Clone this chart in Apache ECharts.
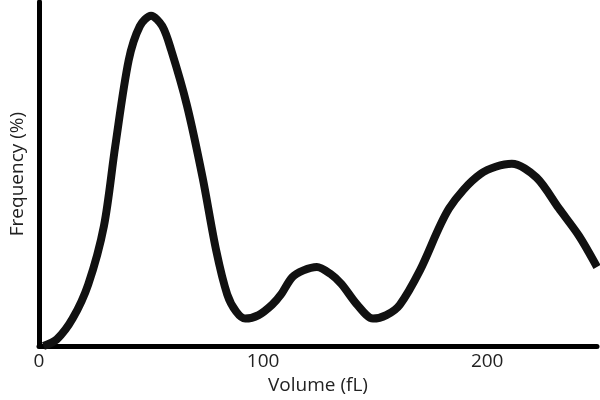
<!DOCTYPE html>
<html><head><meta charset="utf-8">
<script src="https://cdn.jsdelivr.net/npm/echarts@6/dist/echarts.min.js"></script>
<style>html,body{margin:0;background:#fff}#main{width:600px;height:400px}</style>
</head><body><div id="main"></div>
<script>
// volume (fL) and frequency (%)
var volume = [2, 8, 15, 22, 29, 34, 40, 45, 50, 55, 59, 66, 73, 79, 84, 88, 92, 98, 104, 108, 113, 118, 124, 130, 135, 142, 149, 155, 161, 170, 183, 197, 211, 222, 232, 241, 249];
var freq   = [0, 2, 8, 18, 35, 58, 83, 93, 96, 93, 86, 70, 49, 28, 15, 10, 8, 9, 12, 15, 20, 22, 23, 21, 18, 12, 8, 9, 12, 22, 40, 50, 53, 49, 40, 32, 23];
var xTicks = [0, 100, 200];

var data = volume.map(function(v, i){ return [v, freq[i]]; });
var myChart = echarts.init(document.getElementById('main'));
var option = {
  animation: false,
  grid: {left: 35, right: 0, top: 2, bottom: 46},
  xAxis: {
    type: 'value', min: 0, max: 249, interval: 100,
    name: 'Volume (fL)', nameLocation: 'middle', nameGap: 22,
    nameTextStyle: {fontSize: 19, color: '#222', fontFamily: 'Open Sans'},
    axisLine: {lineStyle: {color: '#000', width: 5}},
    axisTick: {show: false}, splitLine: {show: false},
    axisLabel: {fontSize: 19, color: '#222', fontFamily: 'Open Sans', margin: 6,
      formatter: function(v){ return xTicks.indexOf(v) >= 0 ? v : ''; }}
  },
  yAxis: {
    type: 'value', min: 0, max: 100,
    name: 'Frequency (%)', nameLocation: 'middle', nameGap: 12,
    nameTextStyle: {fontSize: 19, color: '#222', fontFamily: 'Open Sans'},
    axisLine: {show: true, lineStyle: {color: '#000', width: 5}},
    axisTick: {show: false}, axisLabel: {show: false}, splitLine: {show: false}
  },
  series: [{
    type: 'line', data: data, smooth: 0.3, symbol: 'none',
    lineStyle: {color: '#111', width: 8}
  }]
};
myChart.setOption(option);
</script></body></html>
